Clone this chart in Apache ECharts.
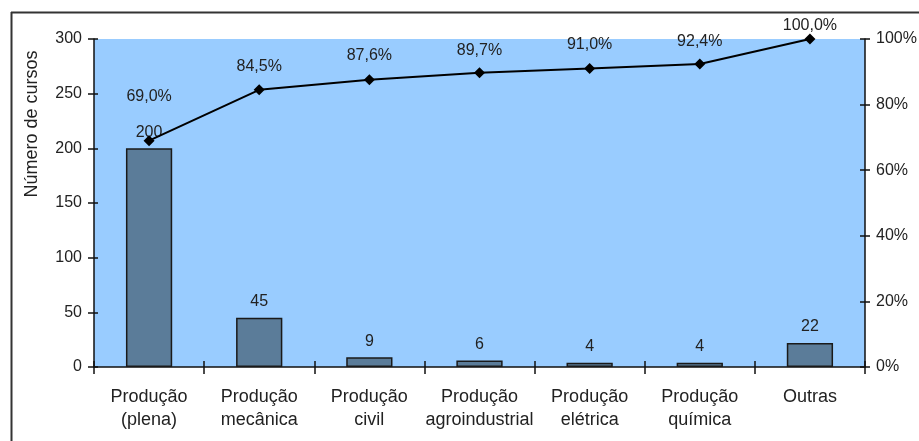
<!DOCTYPE html>
<html>
<head>
<meta charset="utf-8">
<script src="https://cdn.jsdelivr.net/npm/echarts@6/dist/echarts.min.js"></script>
<style>
  html, body { margin: 0; padding: 0; background: #fff; }
  #chart { width: 919px; height: 441px; }
</style>
</head>
<body>
<div id="chart"></div>
<script>
// Cursos por área (Pareto)
const categories = [
  'Produção\n(plena)', 'Produção\nmecânica', 'Produção\ncivil',
  'Produção\nagroindustrial', 'Produção\nelétrica', 'Produção\nquímica', 'Outras'
];
const cursos = [200, 45, 9, 6, 4, 4, 22];
const acumulado = [69.0, 84.5, 87.6, 89.7, 91.0, 92.4, 100.0];
// extra gap above a few cumulative labels
const labelGap = [31, 10, 11, 9, 10, 9, 0];

const FONT = 'Liberation Sans, Arial, sans-serif';
const TXT = '#222';
const AXIS = { color: '#111', width: 1.5 };

// inner half of the crossing tick marks
const innerTicks = { show: true, inside: true, length: 6, lineStyle: AXIS };

const chart = echarts.init(document.getElementById('chart'), null, { renderer: 'canvas' });

chart.setOption({
  animation: false,
  grid: {
    left: 94, right: 54, top: 39, bottom: 74,
    outerBoundsMode: 'none',
    containLabel: false,
    show: true, backgroundColor: '#99CCFF', borderWidth: 0
  },
  graphic: [
    { type: 'line', shape: { x1: 11.5, y1: 12, x2: 11.5, y2: 441 },
      style: { stroke: '#333', lineWidth: 2 } },
    { type: 'line', shape: { x1: 11, y1: 12.5, x2: 919, y2: 12.5 },
      style: { stroke: '#333', lineWidth: 2 } }
  ],
  xAxis: [
    {
      type: 'category',
      data: categories,
      boundaryGap: true,
      axisLine: { lineStyle: AXIS },
      axisTick: { show: true, length: 7, lineStyle: AXIS },
      axisLabel: {
        color: TXT, fontFamily: FONT, fontSize: 18, lineHeight: 23,
        margin: 19, interval: 0
      }
    },
    {
      type: 'category',
      data: categories,
      position: 'bottom',
      boundaryGap: true,
      axisLine: { show: false },
      axisTick: innerTicks,
      axisLabel: { show: false }
    }
  ],
  yAxis: [
    {
      type: 'value', min: 0, max: 300, interval: 50,
      name: 'Número de cursos',
      nameLocation: 'middle', nameRotate: 90, nameGap: 53,
      nameTextStyle: { color: TXT, fontFamily: FONT, fontSize: 18, padding: [0, 0, 0, 158] },
      axisLine: { show: true, lineStyle: AXIS },
      axisTick: { show: true, length: 6, lineStyle: AXIS },
      axisLabel: { color: TXT, fontFamily: FONT, fontSize: 16, margin: 12 },
      splitLine: { show: false }
    },
    {
      type: 'value', min: 0, max: 100, interval: 20,
      position: 'right',
      axisLine: { show: true, lineStyle: AXIS },
      axisTick: { show: true, length: 5, lineStyle: AXIS },
      axisLabel: { color: TXT, fontFamily: FONT, fontSize: 16, margin: 11, formatter: '{value}%' },
      splitLine: { show: false }
    },
    {
      type: 'value', min: 0, max: 300, interval: 50,
      position: 'left',
      axisLine: { show: false },
      axisTick: { show: true, inside: true, length: 4, lineStyle: AXIS },
      axisLabel: { show: false },
      splitLine: { show: false }
    },
    {
      type: 'value', min: 0, max: 100, interval: 20,
      position: 'right',
      axisLine: { show: false },
      axisTick: { show: true, inside: true, length: 5, lineStyle: AXIS },
      axisLabel: { show: false },
      splitLine: { show: false }
    }
  ],
  series: [
    {
      name: 'Número de cursos',
      type: 'bar',
      data: cursos,
      barWidth: '42%',
      itemStyle: { color: '#5B7C99', borderColor: '#1a1a1a', borderWidth: 1.5 },
      label: {
        show: true, position: 'top', distance: 8,
        color: TXT, fontFamily: FONT, fontSize: 16
      }
    },
    {
      name: 'Acumulado',
      type: 'line',
      yAxisIndex: 1,
      data: acumulado.map((v, i) => ({ value: v, label: { distance: labelGap[i] } })),
      symbol: 'diamond',
      symbolSize: 11,
      lineStyle: { color: '#000', width: 2 },
      itemStyle: { color: '#000' },
      z: 5,
      label: {
        show: true, position: 'top',
        color: TXT, fontFamily: FONT, fontSize: 16,
        formatter: p => p.value.toFixed(1).replace('.', ',') + '%'
      }
    }
  ]
});
</script>
</body>
</html>
